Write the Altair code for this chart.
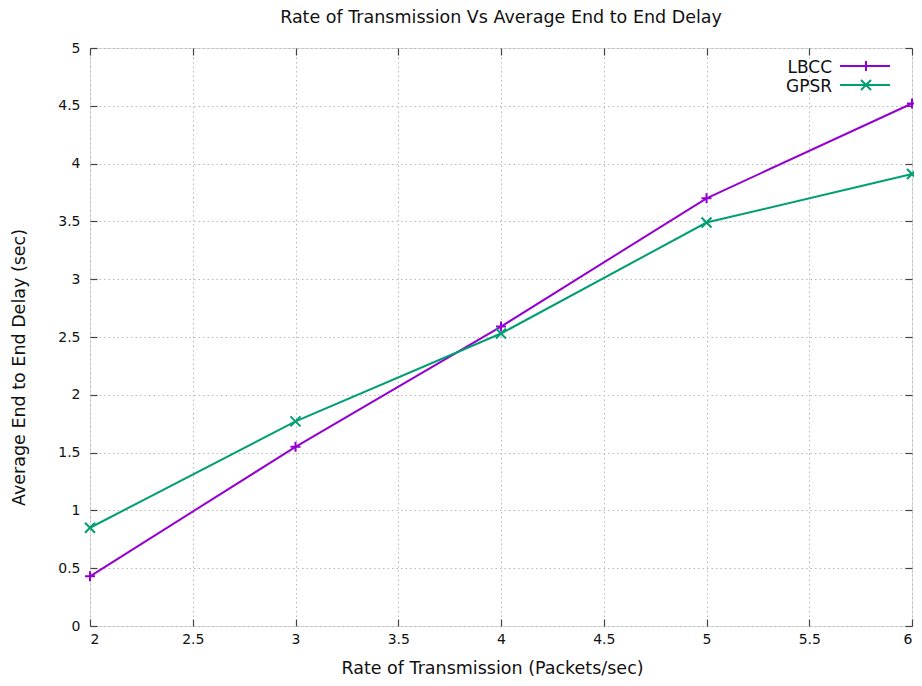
import altair as alt
import pandas as pd

x_rate = [2, 3, 4, 5, 6]
lbcc = [0.43, 1.55, 2.59, 3.70, 4.52]
gpsr = [0.85, 1.77, 2.53, 3.49, 3.91]
series_names = ["LBCC", "GPSR"]
series_colors = ["#9400d3", "#009e73"]
x_ticks = [2, 2.5, 3, 3.5, 4, 4.5, 5, 5.5, 6]
y_ticks = [0, 0.5, 1, 1.5, 2, 2.5, 3, 3.5, 4, 4.5, 5]

PLUS = "M-1,0L1,0M0,-1L0,1"
CROSS = "M-1,-1L1,1M-1,1L1,-1"

rows = []
for name, vals in zip(series_names, [lbcc, gpsr]):
    for xv, yv in zip(x_rate, vals):
        rows.append({"rate": xv, "delay": yv, "series": name})
df = pd.DataFrame(rows)
leg_df = pd.DataFrame({"series": series_names})

W, H = 822, 578
FONT_T = "DejaVu Sans"
FONT_L = "DejaVu Sans"
TS = 17.5

xs = alt.Scale(domain=[2, 6], nice=False, zero=False)
ys = alt.Scale(domain=[0, 5], nice=False, zero=True)
color = alt.Color("series:N", scale=alt.Scale(domain=series_names, range=series_colors), legend=None)
shape = alt.Shape("series:N", scale=alt.Scale(domain=series_names, range=[PLUS, CROSS]), legend=None)

def tick_axis(orient):
    return alt.Axis(orient=orient, offset=-7, tickSize=7, tickWidth=1.2, tickColor="#444",
                    labels=False, domain=False, grid=False, title=None,
                    values=(x_ticks if orient in ("top", "bottom") else y_ticks))

base = alt.Chart(df)

lines = base.mark_line(strokeWidth=2).encode(
    x=alt.X("rate:Q", scale=xs, axis=alt.Axis(
        orient="bottom", values=x_ticks, format="~g", grid=True, gridDash=[1.5, 3],
        gridColor="#b8b8b8", gridWidth=1, ticks=False, domain=False, labelPadding=6,
        labelFont=FONT_L, labelFontSize=14, labelColor="#111",
        title="Rate of Transmission (Packets/sec)", titleFont=FONT_T, titleFontSize=TS,
        titleFontWeight="normal", titleColor="#111", titleX=402, titleY=47,
        titleBaseline="alphabetic", titleAlign="center")),
    y=alt.Y("delay:Q", scale=ys, axis=alt.Axis(
        orient="left", values=y_ticks, format="~g", grid=True, gridDash=[1.5, 3],
        gridColor="#b8b8b8", gridWidth=1, ticks=False, domain=False, labelPadding=10,
        labelFont=FONT_L, labelFontSize=14, labelColor="#111",
        title="Average End to End Delay (sec)", titleFont=FONT_T, titleFontSize=TS,
        titleFontWeight="normal", titleColor="#111", titleX=-71, titleY=319,
        titleAngle=270, titleBaseline="middle", titleAlign="center")),
    color=color,
)

points = base.mark_point(filled=False, size=100, strokeWidth=2, opacity=1).encode(
    x=alt.X("rate:Q", scale=xs, axis=tick_axis("bottom")),
    y=alt.Y("delay:Q", scale=ys, axis=tick_axis("left")),
    color=color,
    shape=shape,
)

ticks2 = base.mark_point(opacity=0).encode(
    x=alt.X("rate:Q", scale=xs, axis=tick_axis("top")),
    y=alt.Y("delay:Q", scale=ys, axis=tick_axis("right")),
)

ly = alt.Y("series:N", scale=alt.Scale(type="point", domain=series_names, range=[18, 37], padding=0),
           axis=None)
leg_base = alt.Chart(leg_df)
leg_rule = leg_base.mark_rule(strokeWidth=2).encode(
    x=alt.value(750), x2=alt.value(800), y=ly, color=color)
leg_pt = leg_base.mark_point(filled=False, size=100, strokeWidth=2, opacity=1).encode(
    x=alt.value(776), y=ly, color=color, shape=shape)
leg_txt = leg_base.mark_text(align="right", baseline="middle", font=FONT_L, fontSize=17,
                             dy=2, color="#111").encode(
    x=alt.value(742), y=ly, text="series:N")

chart = alt.layer(lines, points, ticks2, leg_rule, leg_pt, leg_txt).resolve_scale(
    x="independent", y="independent"
).properties(
    width=W, height=H,
    autosize=alt.AutoSizeParams(type="none"),
    padding={"left": 82, "top": 40, "right": 2, "bottom": 52},
    title=alt.TitleParams("Rate of Transmission Vs Average End to End Delay",
                          font=FONT_T, fontSize=TS, fontWeight="normal", color="#111",
                          offset=15, anchor="middle"),
).configure_view(stroke="#333", strokeWidth=1.5).configure(background="white")

chart.save("out.html", embed_options={"renderer": "svg", "actions": False})
